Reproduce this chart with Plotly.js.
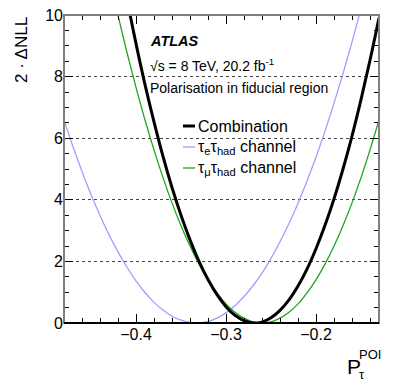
<!DOCTYPE html>
<html>
<head>
<meta charset="utf-8">
<script src="https://cdn.plot.ly/plotly-3.0.1.min.js"></script>
<style>
  body { margin: 0; background: #fff; }
  #chart { width: 399px; height: 385px; }
</style>
</head>
<body>
<div id="chart"></div>
<script>
// 2*dNLL scans
var xComb = [-0.42, -0.41, -0.40, -0.39, -0.38, -0.37, -0.36, -0.35, -0.34, -0.33, -0.32, -0.31, -0.30, -0.29, -0.28, -0.27,
             -0.26, -0.25, -0.24, -0.23, -0.22, -0.21, -0.20, -0.19, -0.18, -0.17, -0.16, -0.15, -0.14, -0.13];
var yComb = [12.02, 10.49, 9.07, 7.74, 6.53, 5.41, 4.40, 3.50, 2.70, 2.00, 1.41, 0.92, 0.53, 0.25, 0.08, 0.00,
             0.03, 0.17, 0.41, 0.75, 1.20, 1.75, 2.41, 3.17, 4.03, 5.00, 6.07, 7.25, 8.53, 9.91];

var xElec = [-0.48, -0.47, -0.46, -0.45, -0.44, -0.43, -0.42, -0.41, -0.40, -0.39, -0.38, -0.37, -0.36, -0.35, -0.34, -0.33, -0.32, -0.31,
             -0.30, -0.29, -0.28, -0.27, -0.26, -0.25, -0.24, -0.23, -0.22, -0.21, -0.20, -0.19, -0.18, -0.17, -0.16, -0.15, -0.14];
var yElec = [6.59, 5.72, 4.92, 4.17, 3.49, 2.87, 2.31, 1.81, 1.37, 0.99, 0.67, 0.42, 0.22, 0.09, 0.02, 0.00, 0.05, 0.16,
             0.33, 0.56, 0.86, 1.21, 1.62, 2.10, 2.64, 3.23, 3.89, 4.61, 5.39, 6.23, 7.14, 8.10, 9.12, 10.21, 11.35];

var xMuon = [-0.43, -0.42, -0.41, -0.40, -0.39, -0.38, -0.37, -0.36, -0.35, -0.34, -0.33, -0.32, -0.31, -0.30, -0.29, -0.28, -0.27,
             -0.26, -0.25, -0.24, -0.23, -0.22, -0.21, -0.20, -0.19, -0.18, -0.17, -0.16, -0.15, -0.14, -0.13];
var yMuon = [11.27, 9.99, 8.78, 7.65, 6.59, 5.62, 4.72, 3.90, 3.16, 2.50, 1.91, 1.40, 0.98, 0.62, 0.35, 0.16, 0.04,
             0.00, 0.04, 0.16, 0.35, 0.62, 0.98, 1.40, 1.91, 2.50, 3.16, 3.90, 4.72, 5.62, 6.59];

var seriesNames = ['Combination', 'τ<sub>e</sub>τ<sub>had</sub> channel', 'τ<sub>μ</sub>τ<sub>had</sub> channel'];
var seriesColors = ['#000000', '#9f9fff', '#1ea51e'];

var font = 'Liberation Sans, Arial, sans-serif';

function curve(x, y, color, width) {
  return {
    x: x, y: y, type: 'scatter', mode: 'lines',
    line: {color: color, width: width, shape: 'spline', smoothing: 1},
    hoverinfo: 'skip', showlegend: false, cliponaxis: true
  };
}

var data = [
  curve(xElec, yElec, seriesColors[1], 1.3),
  curve(xMuon, yMuon, seriesColors[2], 1.3),
  curve(xComb, yComb, seriesColors[0], 3)
];

// pixel -> paper helpers (plot area 64..379 x 15..323)
function px(X) { return (X - 64) / 315; }
function py(Y) { return (323 - Y) / 308; }

var txt = function(X, Y, text, size, extra) {
  var a = {xref: 'paper', yref: 'paper', x: px(X), y: py(Y), text: text, showarrow: false,
           xanchor: 'left', yanchor: 'middle', font: {family: font, size: size, color: '#000'}};
  return Object.assign(a, extra || {});
};

var annotations = [
  txt(148, 41, '<b><i>ATLAS</i></b>', 14.5),
  txt(148, 65, '√s = 8 TeV, 20.2 fb<sup>-1</sup>', 14),
  txt(148, 88, 'Polarisation in fiducial region', 14),
  txt(196, 126, seriesNames[0], 16),
  txt(196, 147, seriesNames[1], 16),
  txt(196, 168, seriesNames[2], 16),
  txt(345, 366, 'P', 21),
  txt(357, 374, 'τ', 13),
  txt(357, 354, 'POI', 13),
  txt(21, 50, '2 · ΔNLL', 17, {xanchor: 'center', textangle: -90})
];

var shapes = [
  {type: 'rect', xref: 'paper', yref: 'paper', x0: 0, x1: 1, y0: 0, y1: 1,
   line: {color: '#808080', width: 2}},
  {type: 'line', xref: 'paper', yref: 'paper', x0: 0, x1: 1, y0: 0, y1: 0,
   line: {color: '#000', width: 2}}
];
var legY = [126, 147, 168];
for (var i = 0; i < 3; i++) {
  shapes.push({type: 'line', xref: 'paper', yref: 'paper', x0: px(183), x1: px(195), y0: py(legY[i]), y1: py(legY[i]),
               line: {color: seriesColors[i], width: i === 0 ? 3 : 1.3}});
}

var layout = {
  width: 399, height: 385,
  margin: {l: 64, r: 20, t: 15, b: 62},
  paper_bgcolor: '#fff', plot_bgcolor: '#fff',
  font: {family: font, size: 16, color: '#000'},
  showlegend: false,
  xaxis: {
    range: [-0.48, -0.13], dtick: 0.1, tick0: 0,
    ticks: 'inside', ticklen: 9, tickwidth: 1, tickcolor: '#000',
    minor: {dtick: 0.02, ticks: 'inside', ticklen: 5, tickcolor: '#000', showgrid: false},
    mirror: 'allticks', showline: false, showgrid: false, zeroline: false,
    tickfont: {size: 16}
  },
  yaxis: {
    range: [0, 10], dtick: 2, tick0: 0,
    ticks: 'inside', ticklen: 9, tickwidth: 1, tickcolor: '#000',
    minor: {dtick: 0.5, ticks: 'inside', ticklen: 5, tickcolor: '#000', showgrid: false},
    mirror: 'allticks', showline: false, zeroline: false,
    showgrid: true, gridcolor: '#444', griddash: 'dot', gridwidth: 1,
    tickfont: {size: 16}
  },
  annotations: annotations,
  shapes: shapes
};

Plotly.newPlot('chart', data, layout, {staticPlot: true});
</script>
</body>
</html>
